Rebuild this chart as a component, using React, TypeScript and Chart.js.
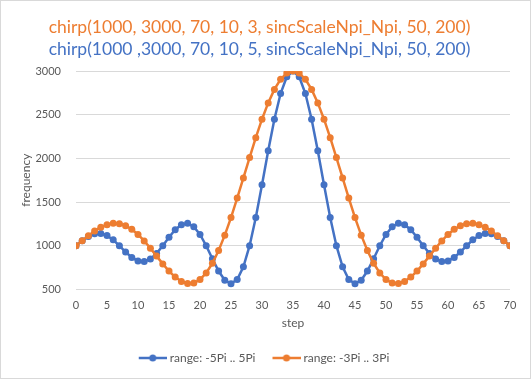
import React, { useEffect, useRef } from "react";
import { Chart, registerables } from "chart.js";

Chart.register(...registerables);

const TITLE_ORANGE = "chirp(1000, 3000, 70, 10, 3, sincScaleNpi_Npi, 50, 200)";
const TITLE_BLUE = "chirp(1000 ,3000, 70, 10, 5, sincScaleNpi_Npi, 50, 200)";
const SERIES_NAMES = ["range: -5Pi .. 5Pi", "range: -3Pi .. 3Pi"];
const X_AXIS_TITLE = "step";
const Y_AXIS_TITLE = "frequency";

const steps = [
  0, 1, 2, 3, 4, 5, 6, 7, 8, 9, 10, 11, 12, 13, 14, 15, 16, 17, 18, 19, 20,
  21, 22, 23, 24, 25, 26, 27, 28, 29, 30, 31, 32, 33, 34, 35, 36, 37, 38, 39,
  40, 41, 42, 43, 44, 45, 46, 47, 48, 49, 50, 51, 52, 53, 54, 55, 56, 57, 58,
  59, 60, 61, 62, 63, 64, 65, 66, 67, 68, 69, 70,
];

const blueValues = [
  1000, 1057, 1106, 1136, 1140, 1116, 1067, 1000, 928, 866, 826, 819, 849, 912,
  1000, 1097, 1183, 1241, 1256, 1218, 1129, 1000, 851, 710, 605, 566, 613, 758,
  1000, 1322, 1697, 2086, 2448, 2742, 2934, 3000, 2934, 2742, 2448, 2086, 1697,
  1322, 1000, 758, 613, 566, 605, 710, 851, 1000, 1129, 1218, 1256, 1241, 1183,
  1097, 1000, 912, 849, 819, 826, 866, 928, 1000, 1067, 1116, 1140, 1136, 1106,
  1057, 1000,
];

const orangeValues = [
  1000, 1058, 1115, 1168, 1211, 1241, 1256, 1252, 1230, 1188, 1129, 1055, 971,
  881, 792, 710, 641, 591, 567, 573, 613, 688, 799, 945, 1121, 1322, 1545, 1776,
  2009, 2237, 2448, 2635, 2789, 2905, 2976, 3000, 2976, 2905, 2789, 2635, 2448,
  2237, 2009, 1776, 1545, 1322, 1121, 945, 799, 688, 613, 573, 567, 591, 641,
  710, 792, 881, 971, 1055, 1129, 1188, 1230, 1252, 1256, 1241, 1211, 1168, 1115,
  1058, 1000,
];

const X_MIN = 0;
const X_MAX = 70;
const X_STEP = 5;
const Y_MIN = 500;
const Y_MAX = 3000;
const Y_STEP = 500;

const BLUE = "#4472C4";
const ORANGE = "#ED7D31";
const TEXT = "#595959";
const GRID = "#D9D9D9";
const FONT = "Lato, 'Open Sans', sans-serif";

function makeLegendIcon(color: string): HTMLCanvasElement {
  const c = document.createElement("canvas");
  c.width = 40;
  c.height = 10;
  const ctx = c.getContext("2d")!;
  ctx.strokeStyle = color;
  ctx.lineWidth = 2.5;
  ctx.beginPath();
  ctx.moveTo(12, 5);
  ctx.lineTo(40, 5);
  ctx.stroke();
  ctx.fillStyle = color;
  ctx.beginPath();
  ctx.arc(26, 5, 3.5, 0, Math.PI * 2);
  ctx.fill();
  return c;
}

export default function App() {
  const canvasRef = useRef<HTMLCanvasElement | null>(null);

  useEffect(() => {
    document.body.style.margin = "0";
    const canvas = canvasRef.current;
    if (!canvas) return;
    const colors = [BLUE, ORANGE];
    const icons = colors.map(makeLegendIcon);

    const chart = new Chart(canvas, {
      type: "line",
      data: {
        datasets: [
          {
            label: SERIES_NAMES[0],
            data: steps.map((s, i) => ({ x: s, y: blueValues[i] })),
            borderColor: BLUE,
            backgroundColor: BLUE,
            borderWidth: 2.5,
            pointRadius: 3.5,
            pointBorderWidth: 0,
            pointBackgroundColor: BLUE,
            order: 1,
          },
          {
            label: SERIES_NAMES[1],
            data: steps.map((s, i) => ({ x: s, y: orangeValues[i] })),
            borderColor: ORANGE,
            backgroundColor: ORANGE,
            borderWidth: 2.5,
            pointRadius: 3.5,
            pointBorderWidth: 0,
            pointBackgroundColor: ORANGE,
            order: 0,
          },
        ],
      },
      options: {
        responsive: false,
        animation: false,
        events: [],
        layout: { padding: { left: 8, right: 20, top: 0, bottom: 4 } },
        plugins: {
          title: {
            display: true,
            text: TITLE_ORANGE,
            color: ORANGE,
            font: { family: FONT, size: 17.5, weight: "normal" },
            padding: { top: 16, bottom: 1 },
          },
          subtitle: {
            display: true,
            text: TITLE_BLUE,
            color: BLUE,
            font: { family: FONT, size: 17.5, weight: "normal" },
            padding: { top: 0, bottom: 11 },
          },
          legend: {
            position: "bottom",
            labels: {
              usePointStyle: true,
              pointStyleWidth: 34,
              color: TEXT,
              font: { family: FONT, size: 12 },
              padding: 8,
              generateLabels: () =>
                SERIES_NAMES.map((name, i) => ({
                  text: name,
                  fillStyle: colors[i],
                  strokeStyle: colors[i],
                  fontColor: TEXT,
                  lineWidth: 0,
                  pointStyle: icons[i],
                  hidden: false,
                  datasetIndex: i,
                })),
            },
          },
          tooltip: { enabled: false },
        },
        scales: {
          x: {
            type: "linear",
            min: X_MIN,
            max: X_MAX,
            ticks: {
              stepSize: X_STEP,
              color: TEXT,
              font: { family: FONT, size: 11 },
              padding: 9,
            },
            grid: { display: false, drawTicks: false },
            border: { display: false },
            title: {
              display: true,
              text: X_AXIS_TITLE,
              color: TEXT,
              font: { family: FONT, size: 12 },
              padding: { top: -5, bottom: 14 },
            },
          },
          y: {
            min: Y_MIN,
            max: Y_MAX,
            ticks: {
              stepSize: Y_STEP,
              color: TEXT,
              font: { family: FONT, size: 11 },
              padding: 15,
              callback: (v: any) => String(v),
            },
            grid: { color: GRID, drawTicks: false, lineWidth: 1 },
            border: { display: false },
            title: {
              display: true,
              text: Y_AXIS_TITLE,
              color: TEXT,
              font: { family: FONT, size: 12 },
              padding: { top: 10, bottom: 4 },
            },
            afterFit: (s: any) => {
              s.width = 67;
            },
          },
        },
      },
    });
    return () => chart.destroy();
  }, []);

  return (
    <div
      style={{
        width: 531,
        height: 379,
        boxSizing: "border-box",
        border: "1px solid #D9D9D9",
        background: "#fff",
        overflow: "hidden",
      }}
    >
      <canvas ref={canvasRef} width={529} height={377} style={{ display: "block" }} />
    </div>
  );
}
